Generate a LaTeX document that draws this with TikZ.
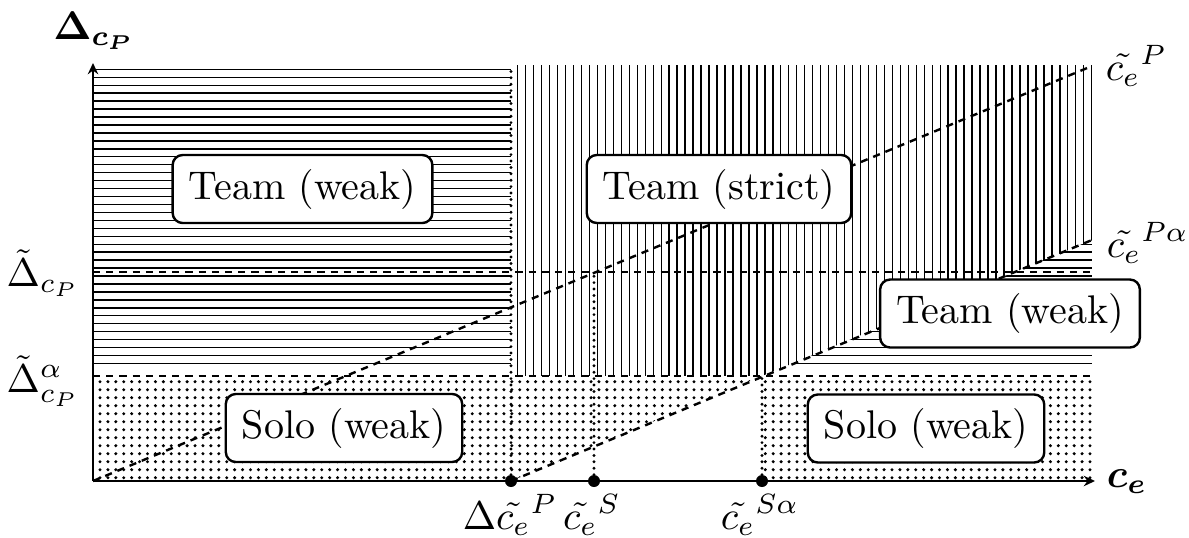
\documentclass[tikz,border=0pt]{standalone}
\usepackage{amsmath,bm}
\usetikzlibrary{arrows.meta}
\begin{document}
\begin{tikzpicture}[x=0.25pt,y=-0.25pt,
  hatch/.style={line width=0.35pt},
  dashln/.style={line width=0.6pt,dash pattern=on 1.8pt off 1.5pt},
  dotln/.style={line width=0.8pt,line cap=round,dash pattern=on 0pt off 1.6pt},
  axisln/.style={line width=0.6pt,-{Stealth[length=2.8pt,width=2.6pt]}},
  region/.style={draw,line width=0.6pt,fill=white,rounded corners=2.5pt,inner xsep=4pt,inner ysep=0pt,minimum height=17pt,font=\normalsize},
  lbl/.style={inner sep=0pt}]
\useasboundingbox (0,0) rectangle (1189,537);
% key coordinates
\coordinate (O) at (93,481);
\coordinate (xend) at (1095,481);
\coordinate (yend) at (93,63);
\coordinate (A) at (511,481);
\coordinate (B) at (594,481);
\coordinate (C) at (762,481);
\coordinate (Atop) at (511,69);
\coordinate (Btop) at (594,272);
\coordinate (Ctop) at (762,376);
\coordinate (pend) at (1092,66);
\coordinate (paend) at (1092,240);
\coordinate (h1a) at (93,272);
\coordinate (h1b) at (1092,272);
\coordinate (h2a) at (93,376);
\coordinate (h2b) at (1092,376);
% horizontal hatching, left
\begin{scope}
\clip (93,66) rectangle (511,376);
\foreach \k in {0,...,37} \draw[hatch] (93,{69.3+7.95*\k}) -- (511,{69.3+7.95*\k});
\end{scope}
% horizontal hatching, right (below Palpha line)
\begin{scope}
\clip (762,376) -- (1092,240) -- (1092,376) -- cycle;
\foreach \k in {0,...,37} \draw[hatch] (700,{69.3+7.95*\k}) -- (1092,{69.3+7.95*\k});
\end{scope}
% vertical hatching
\begin{scope}
\clip (511,65) -- (1093,65) -- (1093,240) -- (762,376) -- (511,376) -- cycle;
\foreach \k in {0,...,72} \draw[hatch] ({517.7+7.972*\k},65) -- ({517.7+7.972*\k},376);
\end{scope}
% dots
\begin{scope}
\clip (93,377) -- (1093,377) -- (1093,482) -- (762,482) -- (762,376) -- (511,481) -- (93,482) -- cycle;
\foreach \i in {0,...,125} {
  \foreach \j in {0,...,12} {
    \fill ({100+7.92*\i},{381.7+8*\j}) circle[radius=0.42pt];
  }
}
\end{scope}
% dashed lines
\draw[dashln] (h1a) -- (h1b);
\draw[dashln] (h2a) -- (h2b);
\draw[dashln] (O) -- (pend);
\draw[dashln] (A) -- (paend);
% dotted verticals
\draw[dotln] (A) -- (Atop);
\draw[dotln] (B) -- (Btop);
\draw[dotln] (C) -- (Ctop);
% axes
\draw[axisln] (O) -- (xend);
\draw[axisln] (O) -- (yend);
\fill (A) circle[radius=1.5pt];
\fill (B) circle[radius=1.5pt];
\fill (C) circle[radius=1.5pt];
% region boxes
\node[region] (tw1) at (302.5,189) {Team (weak)};
\node[region] (ts) at (719,189) {Team (strict)};
\node[region] (tw2) at (1010,313.5) {Team (weak)};
\node[region] (sw1) at (344,428) {Solo (weak)};
\node[region] (sw2) at (926,428.5) {Solo (weak)};
% labels
\node[lbl] (ylab) at (94,31) {$\bm{\Delta_{c_P}}$};
\node[lbl] (xlab) at (1127,482) {$\bm{c_e}$};
\node[lbl,anchor=west] (cP) at (1105,66) {$\tilde{c_e}^{P}$};
\node[lbl,anchor=west] (cPa) at (1106,243) {$\tilde{c_e}^{P\alpha}$};
\node[lbl] (D1) at (43,273) {$\tilde{\Delta}_{c_P}$};
\node[lbl] (D2) at (43,381) {$\tilde{\Delta}^{\alpha}_{c_P}$};
\node[lbl] (l1) at (510,515) {$\Delta\tilde{c_e}^{P}$};
\node[lbl] (l2) at (592,515) {$\tilde{c_e}^{S}$};
\node[lbl] (l3) at (760,515) {$\tilde{c_e}^{S\alpha}$};
\end{tikzpicture}
\end{document}
